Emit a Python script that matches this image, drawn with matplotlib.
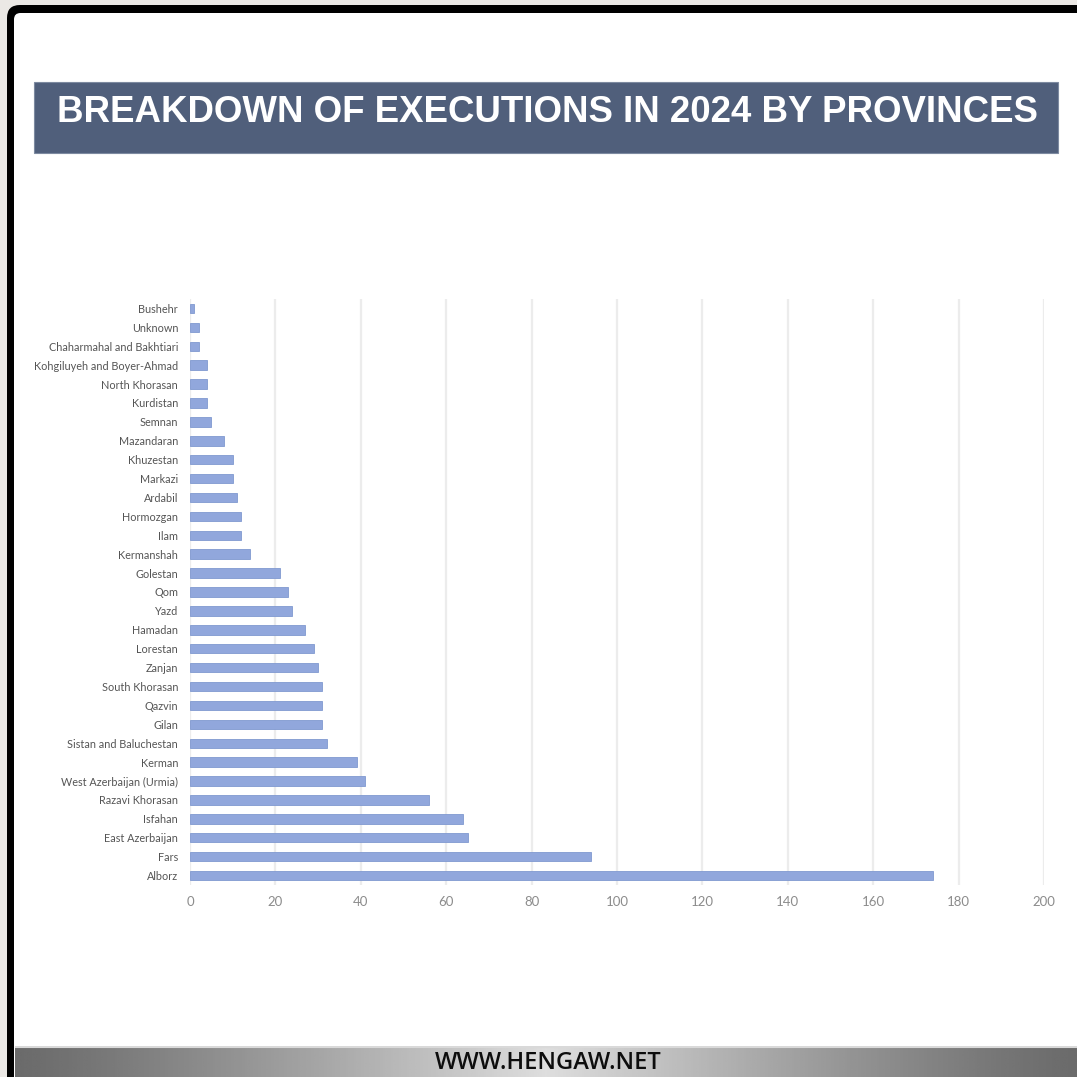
import numpy as np
import matplotlib
matplotlib.use("Agg")
import matplotlib.pyplot as plt
from matplotlib.patches import Rectangle, FancyBboxPatch

# Executions in 2024 per province, listed bottom (largest) to top
provinces = ["Alborz", "Fars", "East Azerbaijan", "Isfahan", "Razavi Khorasan",
             "West Azerbaijan (Urmia)", "Kerman", "Sistan and Baluchestan", "Gilan",
             "Qazvin", "South Khorasan", "Zanjan", "Lorestan", "Hamadan", "Yazd",
             "Qom", "Golestan", "Kermanshah", "Ilam", "Hormozgan", "Ardabil",
             "Markazi", "Khuzestan", "Mazandaran", "Semnan", "Kurdistan",
             "North Khorasan", "Kohgiluyeh and Boyer-Ahmad",
             "Chaharmahal and Bakhtiari", "Unknown", "Bushehr"]
executions = [174, 94, 65, 64, 56, 41, 39, 32, 31, 31, 31, 30, 29, 27, 24,
              23, 21, 14, 12, 12, 11, 10, 10, 8, 5, 4, 4, 4, 2, 2, 1]
x_ticks = [0, 20, 40, 60, 80, 100, 120, 140, 160, 180, 200]

title = "BREAKDOWN OF EXECUTIONS IN 2024 BY PROVINCES"
footer = "WWW.HENGAW.NET"

W = H = 1077
fig = plt.figure(figsize=(10.77, 10.77), dpi=100, facecolor="#ebe8e5")


def px(x, y):
    # pixel position (from top-left) -> figure fraction
    return x / W, 1 - y / H


# black frame with rounded corner, white page inside
frame = FancyBboxPatch(px(7, 1120), 1.2, (1120 - 5) / H,
                       boxstyle="round,pad=0,rounding_size=0.012",
                       transform=fig.transFigure, facecolor="black",
                       edgecolor="none", zorder=-2)
fig.patches.append(frame)
page = FancyBboxPatch(px(14, 1120), 1.2, (1120 - 13) / H,
                      boxstyle="round,pad=0,rounding_size=0.006",
                      transform=fig.transFigure, facecolor="white",
                      edgecolor="none", zorder=-1)
fig.patches.append(page)

# title banner
bx, by = px(34, 153)
fig.patches.append(Rectangle((bx, by), (1058 - 34) / W, (153 - 82) / H,
                             transform=fig.transFigure, facecolor="#505f7b",
                             edgecolor="#7d8aa0", linewidth=0.8, zorder=1))
fig.text(547 / W, 1 - 113 / H, title, ha="center", va="center",
         color="white", fontsize=26.4, fontweight="bold",
         family="Liberation Sans", zorder=2)

# bar chart
ax = fig.add_axes([190 / W, 1 - 885 / H, (1044 - 190) / W, (885 - 299) / H])
ax.set_zorder(2)
ax.set_facecolor("white")
y = np.arange(len(provinces))
ax.barh(y, executions, height=0.5, color="#91a7dc", edgecolor="#8099d0",
        linewidth=0.6, zorder=3)
ax.set_xlim(0, 200)
ax.set_ylim(-0.5, len(provinces) - 0.5)
ax.set_xticks(x_ticks)
ax.set_xticklabels([str(t) for t in x_ticks])
ax.set_yticks(y)
ax.set_yticklabels(provinces)
ax.grid(axis="x", color="#ececec", linewidth=1.6, zorder=0)
ax.set_axisbelow(True)
for s in ax.spines.values():
    s.set_visible(False)
ax.tick_params(axis="y", length=0, pad=8.5, labelsize=7.8, labelcolor="#555555")
ax.tick_params(axis="x", length=0, pad=8, labelsize=9.5, labelcolor="#8c8c8c")
for lab in ax.get_yticklabels():
    lab.set_family("Lato")
for lab in ax.get_xticklabels():
    lab.set_family("Lato")

# footer strip with grey gradient
fax = fig.add_axes([15 / W, 0, (W - 15) / W, 31 / H])
fax.set_zorder(2)
fax.set_axis_off()
xs = np.linspace(0, 1, 400)
shade = 0.42 + 0.45 * np.clip(1 - np.abs(xs - 0.5) / 0.5, 0, 1) ** 1.2
fax.imshow(np.tile(shade, (10, 1)), cmap="gray", vmin=0, vmax=1,
           aspect="auto", extent=(0, 1, 0, 1))
fax.set_xlim(0, 1)
fax.set_ylim(0, 1)
fax.axhline(0.97, color="#d9d9d9", linewidth=1.5)
fax.text((548 - 15) / (W - 15), 0.46, footer, ha="center", va="center",
         color="#0d0d0d", fontsize=17, fontweight="semibold",
         family="Open Sans", transform=fax.transAxes)

fig.savefig("out.png", dpi=100, facecolor=fig.get_facecolor())
